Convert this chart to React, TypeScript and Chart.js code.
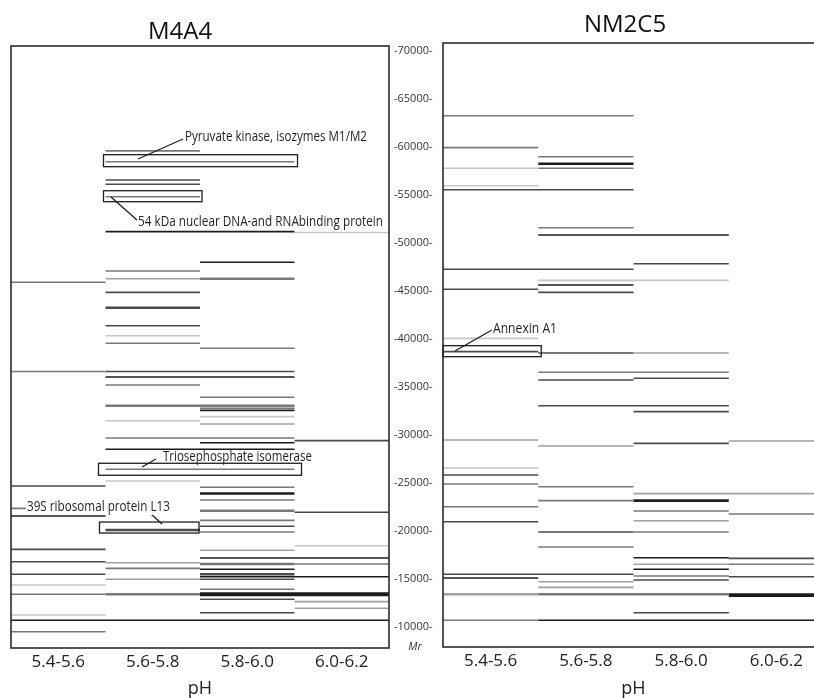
import React, { useEffect, useRef } from 'react';
import { Chart, registerables } from 'chart.js';

Chart.register(...registerables);

const PH_RANGES = ['5.4-5.6', '5.6-5.8', '5.8-6.0', '6.0-6.2'];
const MR_TICKS = [10000, 15000, 20000, 25000, 30000, 35000, 40000, 45000, 50000, 55000, 60000, 65000, 70000];

// band: [first pH column, end pH column, Mr, intensity 1-5, thickness 1-3]
const M4A4_BANDS = [
  [1, 2, 59600, 3, 1], [1, 3, 58470, 3, 1], [1, 2, 56560, 4, 1], [1, 2, 56115, 4, 1],
  [1, 2, 54820, 3, 1], [1, 3, 51180, 5, 1], [3, 4, 51100, 1, 1], [2, 3, 47990, 5, 1],
  [1, 2, 47080, 3, 1], [1, 2, 46280, 2, 1], [2, 3, 46280, 3, 2], [0, 1, 45910, 3, 1],
  [1, 2, 44860, 4, 1], [1, 2, 43260, 4, 2], [1, 2, 41380, 4, 1], [1, 2, 40340, 1, 1],
  [1, 2, 39550, 3, 1], [2, 3, 39030, 3, 1], [0, 1, 36610, 3, 1], [1, 3, 36610, 4, 1],
  [1, 3, 36040, 5, 1], [1, 2, 35210, 3, 1], [2, 3, 33930, 3, 1], [1, 2, 33050, 3, 2],
  [2, 3, 33050, 3, 2], [2, 3, 32780, 3, 1], [2, 3, 32570, 5, 1], [2, 3, 31910, 1, 1],
  [1, 2, 31490, 1, 1], [2, 3, 31150, 2, 1], [1, 3, 29690, 3, 1], [3, 4, 29410, 4, 1],
  [2, 3, 29200, 5, 1], [1, 3, 28510, 5, 1], [1, 3, 26430, 3, 1], [1, 2, 25210, 1, 1],
  [0, 1, 24690, 4, 1], [2, 3, 24550, 3, 1], [2, 3, 23900, 5, 2], [2, 3, 23230, 3, 1],
  [0, 1, 22360, 3, 1], [2, 3, 22110, 3, 2], [3, 4, 21950, 4, 1], [0, 1, 21560, 5, 1],
  [2, 3, 21110, 3, 1], [2, 3, 20490, 4, 1], [1, 2, 20100, 4, 2], [2, 3, 19900, 3, 1],
  [3, 4, 18470, 1, 1], [0, 1, 18090, 4, 1], [2, 3, 17990, 2, 1], [2, 4, 17190, 5, 1],
  [0, 1, 16800, 4, 1], [1, 2, 16700, 2, 1], [2, 3, 16560, 3, 2], [3, 4, 16560, 3, 1],
  [1, 2, 16110, 3, 1], [2, 3, 16010, 5, 1], [0, 1, 15490, 4, 1], [2, 3, 15490, 4, 2],
  [2, 4, 15240, 5, 1], [1, 2, 14970, 2, 1], [2, 3, 14970, 4, 1], [0, 1, 14375, 1, 1],
  [2, 3, 13930, 3, 1], [0, 1, 13410, 3, 1], [1, 2, 13410, 3, 2], [2, 4, 13410, 5, 3],
  [2, 3, 12890, 4, 1], [3, 4, 12640, 2, 1], [3, 4, 11950, 2, 1], [2, 3, 11490, 4, 1],
  [0, 1, 11250, 1, 1], [0, 4, 10700, 5, 1], [0, 1, 9510, 3, 1],
];

const NM2C5_BANDS = [
  [0, 2, 63260, 3, 1], [0, 1, 59930, 3, 1], [1, 2, 58990, 3, 1], [1, 2, 58260, 5, 2],
  [0, 1, 57780, 1, 1], [1, 2, 57780, 3, 1], [0, 1, 55970, 1, 1], [0, 2, 55550, 4, 1],
  [1, 2, 51590, 3, 1], [1, 3, 50830, 5, 1], [2, 3, 47840, 4, 1], [0, 2, 47260, 4, 1],
  [1, 3, 46110, 1, 1], [1, 2, 45620, 5, 1], [0, 1, 45180, 4, 1], [1, 2, 44860, 4, 1],
  [0, 1, 40070, 1, 1], [0, 1, 38680, 4, 1], [1, 2, 38540, 4, 1], [2, 3, 38540, 2, 1],
  [1, 3, 36530, 3, 1], [1, 2, 35730, 4, 1], [2, 3, 35910, 4, 1], [1, 3, 33050, 4, 1],
  [2, 3, 32430, 4, 1], [0, 1, 29480, 2, 1], [3, 4, 29380, 2, 1], [2, 3, 29130, 4, 1],
  [1, 2, 28850, 2, 1], [0, 1, 26560, 1, 1], [0, 1, 25830, 4, 1], [0, 1, 24900, 3, 1],
  [1, 2, 24610, 3, 1], [2, 4, 23890, 2, 1], [1, 2, 23160, 3, 1], [2, 3, 23160, 5, 2],
  [0, 1, 22530, 3, 1], [2, 3, 22080, 3, 1], [3, 4, 21770, 3, 1], [2, 3, 21070, 2, 1],
  [0, 1, 20970, 4, 1], [1, 2, 19900, 4, 1], [2, 3, 19900, 3, 1], [1, 2, 18330, 3, 1],
  [2, 3, 17220, 5, 1], [3, 4, 17150, 4, 1], [2, 3, 16530, 2, 1], [3, 4, 16530, 3, 1],
  [2, 3, 16010, 5, 1], [0, 2, 15490, 4, 1], [2, 3, 15310, 3, 1], [3, 4, 15240, 4, 1],
  [0, 1, 15100, 5, 1], [2, 3, 14900, 4, 1], [1, 2, 14720, 2, 1], [1, 2, 14130, 2, 1],
  [0, 1, 13410, 2, 2], [1, 3, 13410, 3, 2], [3, 4, 13330, 5, 3], [2, 3, 11490, 4, 1],
  [0, 1, 10700, 3, 1], [1, 4, 10700, 5, 1],
];

const M4A4_CALLOUTS = [
  { text: 'Pyruvate kinase, isozymes M1/M2', from: 1, to: 3, mr: 58470, at: [1.841, 61042], leader: [[1.344, 58750], [1.82, 60833]] },
  { text: '54 kDa nuclear DNA-and RNAbinding protein', from: 1, to: 2, mr: 54820, at: [1.344, 52187], leader: [[1.058, 54792], [1.333, 52396]] },
  { text: 'Triosephosphate isomerase', from: 1, to: 3, mr: 26430, at: [1.608, 27708], leader: [[1.386, 26667], [1.534, 27500]] },
  { text: '39S ribosomal protein L13', from: 1, to: 2, mr: 20100, at: [0.169, 22500], leader: [[1.481, 21771], [1.598, 20729]], bg: true },
];
const M4A4_CALLOUT_LAYOUT = [
  { pad: [2, 3, 7, 5], width: 182 },
  { pad: [2, 2, 6, 5], width: 245 },
  { pad: [7, 7, 6, 6], width: 149 },
  { pad: [6, -1, 8, 3], width: 143 },
];

const NM2C5_CALLOUTS = [
  { text: 'Annexin A1', from: 0, to: 1, mr: 38680, at: [0.525, 41042], leader: [[0.126, 38750], [0.514, 40938]] },
];
const NM2C5_CALLOUT_LAYOUT = [{ pad: [0, 3, 6, 5], width: 64 }];

const TONES = ['', '#c6c6c6', '#a0a0a0', '#787878', '#4a4a4a', '#1c1c1c'];
const WIDTHS = [0, 1.6, 2.6, 3.8];
const INK = '#1e1e1e';

const framePlugin = {
  id: 'frame',
  afterDatasetsDraw(chart: any) {
    const { ctx, chartArea: a } = chart;
    ctx.save();
    ctx.strokeStyle = '#2b2b2b';
    ctx.lineWidth = 1.6;
    ctx.strokeRect(a.left, a.top, a.right - a.left, a.bottom - a.top);
    ctx.restore();
  },
};

function makeCalloutPlugin(items: any[], layout: any[]) {
  return {
    id: 'callouts',
    afterDatasetsDraw(chart: any) {
      const { ctx } = chart;
      const xs = chart.scales.x;
      const ys = chart.scales.y;
      items.forEach((c, i) => {
        const lay = layout[i];
        const x0 = xs.getPixelForValue(c.from) - lay.pad[0];
        const x1 = xs.getPixelForValue(c.to) + lay.pad[1];
        const yc = ys.getPixelForValue(c.mr);
        ctx.save();
        ctx.strokeStyle = INK;
        ctx.lineWidth = 1.3;
        ctx.strokeRect(x0, yc - lay.pad[2], x1 - x0, lay.pad[2] + lay.pad[3]);
        ctx.beginPath();
        ctx.moveTo(xs.getPixelForValue(c.leader[0][0]), ys.getPixelForValue(c.leader[0][1]));
        ctx.lineTo(xs.getPixelForValue(c.leader[1][0]), ys.getPixelForValue(c.leader[1][1]));
        ctx.stroke();
        const tx = xs.getPixelForValue(c.at[0]);
        const ty = ys.getPixelForValue(c.at[1]);
        ctx.font = '14px "Open Sans"';
        const w = ctx.measureText(c.text).width;
        const k = lay.width / w;
        if (c.bg) {
          ctx.fillStyle = '#ffffff';
          ctx.fillRect(tx - 1, ty - 8, lay.width + 2, 16);
        }
        ctx.translate(tx, ty);
        ctx.scale(k, 1);
        ctx.fillStyle = INK;
        ctx.textBaseline = 'middle';
        ctx.textAlign = 'left';
        ctx.fillText(c.text, 0, 0);
        ctx.restore();
      });
    },
  };
}

function Panel(props: any) {
  const { bands, callouts, calloutLayout, showMr, range, pad, xHeight, box } = props;
  const ref = useRef<HTMLCanvasElement>(null);
  useEffect(() => {
    const chart = new Chart(ref.current as HTMLCanvasElement, {
      type: 'line',
      data: {
        datasets: bands.map(([c0, c1, mr, tone, thick]: number[]) => ({
          data: [{ x: c0, y: mr }, { x: c1, y: mr }],
          borderColor: TONES[tone],
          borderWidth: WIDTHS[thick],
          pointRadius: 0,
          pointHoverRadius: 0,
          tension: 0,
          fill: false,
        })),
      },
      options: {
        animation: false,
        responsive: true,
        maintainAspectRatio: false,
        events: [],
        layout: { padding: pad },
        plugins: { legend: { display: false }, tooltip: { enabled: false } },
        scales: {
          x: {
            type: 'linear',
            min: 0,
            max: 4,
            grid: { display: false, drawTicks: false },
            border: { display: false },
            afterBuildTicks: (s: any) => { s.ticks = PH_RANGES.map((_, i) => ({ value: i + 0.5 })); },
            afterFit: (s: any) => { s.height = xHeight; },
            ticks: {
              autoSkip: false,
              maxRotation: 0,
              padding: 4,
              color: '#222',
              font: { family: 'Open Sans', size: 17 },
              callback: (v: any) => PH_RANGES[Math.floor(Number(v))],
            },
            title: {
              display: true,
              text: 'pH',
              color: '#222',
              font: { family: 'Open Sans', size: 18, lineHeight: 1 },
              padding: { top: 0, bottom: 0 },
            },
          },
          y: {
            type: 'linear',
            position: 'right',
            display: showMr,
            min: range[0],
            max: range[1],
            grid: { display: false, drawTicks: false },
            border: { display: false },
            afterBuildTicks: (s: any) => { s.ticks = MR_TICKS.map((v) => ({ value: v })); },
            afterFit: (s: any) => { s.width = showMr ? 54 : 0; },
            ticks: {
              autoSkip: false,
              padding: 5,
              color: '#333',
              font: { family: 'Open Sans', size: 11 },
              callback: (v: any) => `-${v}-`,
            },
          },
        },
      } as any,
      plugins: [framePlugin, makeCalloutPlugin(callouts, calloutLayout)],
    });
    return () => chart.destroy();
  }, []);
  return (
    <div style={{ position: 'absolute', ...box }}>
      <canvas ref={ref} />
    </div>
  );
}

const labelStyle: any = {
  position: 'absolute',
  transform: 'translate(-50%, -50%)',
  fontFamily: '"Open Sans", sans-serif',
  color: '#111',
  lineHeight: 1,
  whiteSpace: 'nowrap',
};

export default function App() {
  return (
    <div style={{ position: 'fixed', left: 0, top: 0, width: 814, height: 698, overflow: 'hidden', background: '#fff' }}>
      <Panel
        bands={M4A4_BANDS}
        callouts={M4A4_CALLOUTS}
        calloutLayout={M4A4_CALLOUT_LAYOUT}
        showMr={true}
        range={[7812, 70521]}
        pad={{ left: 11, top: 46, right: 0, bottom: 0 }}
        xHeight={50}
        box={{ left: 0, top: 0, width: 443, height: 698 }}
      />
      <Panel
        bands={NM2C5_BANDS}
        callouts={NM2C5_CALLOUTS}
        calloutLayout={NM2C5_CALLOUT_LAYOUT}
        showMr={false}
        range={[7917, 70833]}
        pad={{ left: 10, top: 43, right: 9, bottom: 0 }}
        xHeight={51}
        box={{ left: 433, top: 0, width: 400, height: 698 }}
      />
      <div style={{ ...labelStyle, left: 180, top: 30, fontSize: 24 }}>M4A4</div>
      <div style={{ ...labelStyle, left: 625, top: 23, fontSize: 24 }}>NM2C5</div>
      <div style={{ ...labelStyle, left: 415, top: 645, fontSize: 11, fontStyle: 'italic', color: '#333' }}>Mr</div>
    </div>
  );
}
